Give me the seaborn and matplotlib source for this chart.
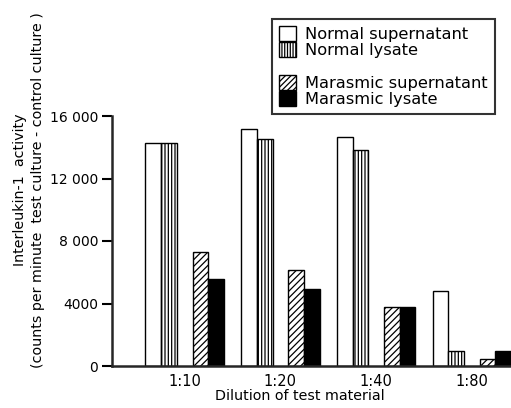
import matplotlib
matplotlib.use("Agg")
import matplotlib.pyplot as plt
from matplotlib.patches import Patch
import pandas as pd
import seaborn as sns

# ---- data ----
dilutions = ["1:10", "1:20", "1:40", "1:80"]
normal_supernatant = [14250, 15150, 14650, 4800]
normal_lysate = [14250, 14550, 13850, 950]
marasmic_supernatant = [7300, 6150, 3800, 450]
marasmic_lysate = [5550, 4950, 3800, 950]
series_names = ["Normal supernatant", "Normal lysate",
                "Marasmic supernatant", "Marasmic lysate"]
ytick_values = [0, 4000, 8000, 12000, 16000]
ytick_labels = ["0", "4000", "8 000", "12 000", "16 000"]

rows = []
for name, vals in zip(series_names, [normal_supernatant, normal_lysate,
                                     marasmic_supernatant, marasmic_lysate]):
    for d, v in zip(dilutions, vals):
        rows.append({"dilution": d, "series": name, "value": v})
df = pd.DataFrame(rows)

# an empty hue level keeps the gap between the normal and marasmic pairs
hue_order = ["Normal supernatant", "Normal lysate", "_gap",
             "Marasmic supernatant", "Marasmic lysate"]
palette = {"Normal supernatant": "white", "Normal lysate": "white", "_gap": "white",
           "Marasmic supernatant": "white", "Marasmic lysate": "black"}
hatch_map = {"Normal supernatant": "", "Normal lysate": "|||||", "_gap": "",
             "Marasmic supernatant": "/////", "Marasmic lysate": ""}

sns.set_style("ticks")
plt.rcParams["font.family"] = ["DejaVu Sans"]
plt.rcParams["hatch.linewidth"] = 0.9
plt.rcParams["text.color"] = "black"

fig = plt.figure(figsize=(5.11, 4.08), dpi=100)
ax = fig.add_axes([112 / 511, 1 - 366 / 408, 1 - 112 / 511, (366 - 116) / 408])

sns.barplot(data=df, x="dilution", y="value", hue="series", order=dilutions,
            hue_order=hue_order, palette=palette, saturation=1, width=0.82,
            errorbar=None, edgecolor="black", linewidth=1.0, legend=False, ax=ax)

levels = hue_order if len(ax.containers) == len(hue_order) else series_names
for cont, lev in zip(ax.containers, levels):
    for bar in cont:
        bar.set_hatch(hatch_map[lev])

ax.set_xlim(-0.76, 3.41)
ax.set_ylim(0, 16000)
ax.set_yticks(ytick_values)
ax.set_yticklabels(ytick_labels)
ax.set_xlabel("")
ax.set_ylabel("")
for s in ["top", "right"]:
    ax.spines[s].set_visible(False)
ax.spines["left"].set_linewidth(1.8)
ax.spines["bottom"].set_linewidth(1.8)
ax.tick_params(axis="y", length=7, width=1.5, pad=3, labelsize=10, colors="black")
ax.tick_params(axis="x", length=0, pad=6, labelsize=10.5, colors="black")

fig.text(300 / 511, 1 - 396 / 408, "Dilution of test material",
         ha="center", va="center", fontsize=10.3, color="black")
fig.text(29 / 511, 1 - 190 / 408,
         "Interleukin-1  activity\n(counts per minute  test culture - control culture )",
         rotation=90, ha="center", va="center", multialignment="center",
         fontsize=10.3, linespacing=1.35, color="black")

handles = [Patch(facecolor="white", edgecolor="black", label=series_names[0]),
           Patch(facecolor="white", edgecolor="black", hatch="||||||", label=series_names[1]),
           Patch(facecolor="none", edgecolor="none", label=" "),
           Patch(facecolor="white", edgecolor="black", hatch="//////", label=series_names[2]),
           Patch(facecolor="black", edgecolor="black", label=series_names[3])]
leg = fig.legend(handles=handles, loc="upper left",
                 bbox_to_anchor=(272 / 511, 1 - 19 / 408), borderaxespad=0,
                 fontsize=11.7, frameon=True, fancybox=False, labelspacing=0.0,
                 handlelength=1.0, handleheight=1.05, handletextpad=0.6,
                 borderpad=0.45, labelcolor="black")
leg.get_frame().set_edgecolor("black")
leg.get_frame().set_linewidth(1.5)

fig.savefig("out.png", dpi=100)
